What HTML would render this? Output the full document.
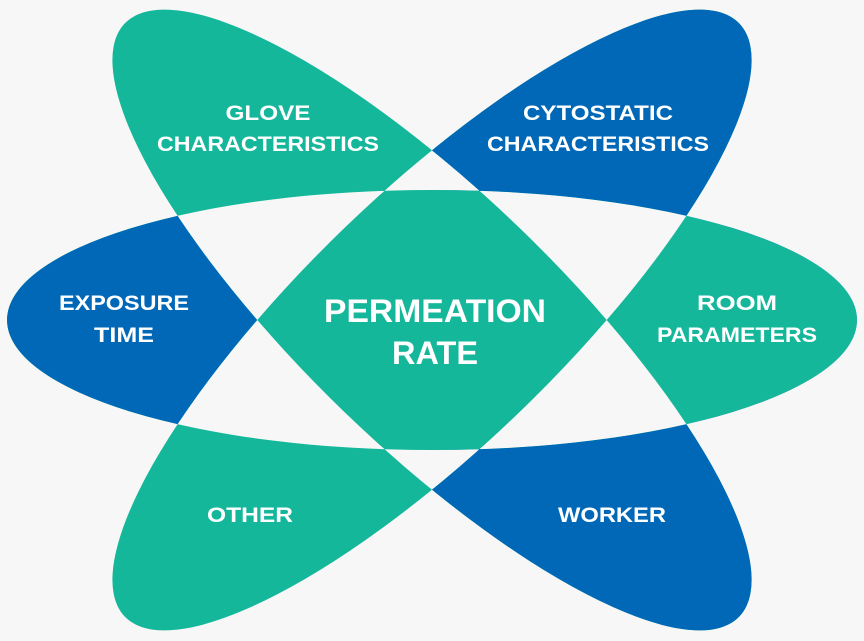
<!DOCTYPE html>
<html><head><meta charset="utf-8"><style>
html,body{margin:0;padding:0;background:#f7f7f7;}
svg{display:block;}
text{font-family:"Liberation Sans",sans-serif;font-weight:bold;fill:#fff;text-anchor:middle;}
</style></head><body>
<svg width="864" height="641" viewBox="0 0 864 641" xmlns="http://www.w3.org/2000/svg">
<defs>
<clipPath id="lh"><rect x="0" y="0" width="432" height="641"/></clipPath>
<mask id="bm" maskUnits="userSpaceOnUse" x="0" y="0" width="864" height="641">
<rect x="0" y="0" width="864" height="641" fill="black"/>
<rect x="432" y="0" width="432" height="641" fill="white"/>
<ellipse cx="432" cy="320" rx="425" ry="130" fill="black"/>
<g clip-path="url(#lh)">
<ellipse cx="432" cy="320" rx="425" ry="130" fill="white"/>
<ellipse cx="432" cy="320" rx="427" ry="127" fill="black" transform="rotate(44 432 320)"/>
<ellipse cx="432" cy="320" rx="427" ry="127" fill="black" transform="rotate(-44 432 320)"/>
</g>
</mask>
<path id="xor" fill-rule="evenodd" d="
M7,320 a425,130 0 1,0 850,0 a425,130 0 1,0 -850,0 Z
M124.8,23.4 A427,127 44 1,0 739.2,616.6 A427,127 44 1,0 124.8,23.4 Z
M739.2,23.4 A427,127 -44 1,0 124.8,616.6 A427,127 -44 1,0 739.2,23.4 Z"/>
</defs>
<use href="#xor" fill="#15b79b"/>
<g mask="url(#bm)"><use href="#xor" fill="#0068b7"/></g>
<g font-size="21">
<text x="268" y="120" textLength="85" lengthAdjust="spacingAndGlyphs">GLOVE</text>
<text x="268" y="151" textLength="222" lengthAdjust="spacingAndGlyphs">CHARACTERISTICS</text>
<text x="598" y="120" textLength="150" lengthAdjust="spacingAndGlyphs">CYTOSTATIC</text>
<text x="598" y="151" textLength="222" lengthAdjust="spacingAndGlyphs">CHARACTERISTICS</text>
<text x="124" y="310" textLength="130" lengthAdjust="spacingAndGlyphs">EXPOSURE</text>
<text x="124" y="342" textLength="60" lengthAdjust="spacingAndGlyphs">TIME</text>
<text x="737" y="310" textLength="80" lengthAdjust="spacingAndGlyphs">ROOM</text>
<text x="737" y="342" textLength="160" lengthAdjust="spacingAndGlyphs">PARAMETERS</text>
<text x="250" y="522" textLength="86" lengthAdjust="spacingAndGlyphs">OTHER</text>
<text x="612" y="522" textLength="108" lengthAdjust="spacingAndGlyphs">WORKER</text>
</g>
<g font-size="32">
<text x="435" y="322" textLength="222" lengthAdjust="spacingAndGlyphs">PERMEATION</text>
<text x="435" y="364" textLength="86" lengthAdjust="spacingAndGlyphs">RATE</text>
</g>
</svg>
</body></html>
